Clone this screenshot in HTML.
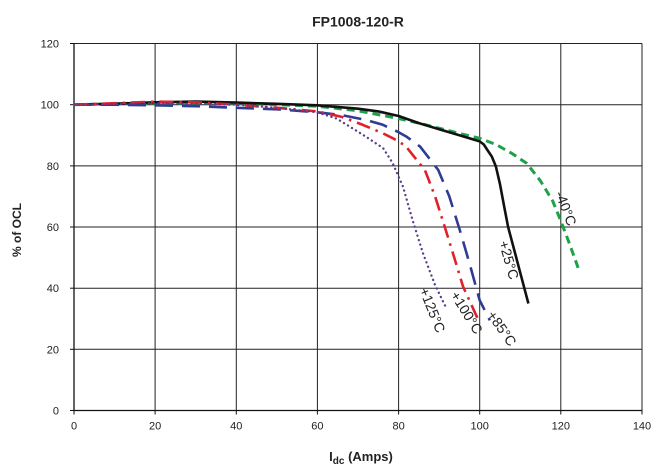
<!DOCTYPE html>
<html>
<head>
<meta charset="utf-8">
<style>
  html, body { margin: 0; padding: 0; background: #ffffff; }
  body { width: 664px; height: 476px; overflow: hidden; }
  svg { display: block; }
  text { font-family: "Liberation Sans", Arial, sans-serif; fill: #222; }
</style>
</head>
<body>
<svg width="664" height="476" viewBox="0 0 664 476" xmlns="http://www.w3.org/2000/svg">
  <!-- Title -->
  <text x="358" y="26.5" font-size="14" font-weight="bold" text-anchor="middle">FP1008-120-R</text>

  <!-- Grid -->
  <g stroke="#222" stroke-width="1" fill="none">
    <line x1="74" y1="43.5" x2="642" y2="43.5"/>
    <line x1="74" y1="104.7" x2="642" y2="104.7"/>
    <line x1="74" y1="165.9" x2="642" y2="165.9"/>
    <line x1="74" y1="227" x2="642" y2="227"/>
    <line x1="74" y1="288.2" x2="642" y2="288.2"/>
    <line x1="74" y1="349.3" x2="642" y2="349.3"/>
    <line x1="155.1" y1="43.5" x2="155.1" y2="410.5"/>
    <line x1="236.3" y1="43.5" x2="236.3" y2="410.5"/>
    <line x1="317.4" y1="43.5" x2="317.4" y2="410.5"/>
    <line x1="398.6" y1="43.5" x2="398.6" y2="410.5"/>
    <line x1="479.7" y1="43.5" x2="479.7" y2="410.5"/>
    <line x1="560.8" y1="43.5" x2="560.8" y2="410.5"/>
    <line x1="642" y1="43.5" x2="642" y2="410.5"/>
  </g>
  <!-- Axes -->
  <g stroke="#111" stroke-width="1.3" fill="none">
    <line x1="74" y1="43.5" x2="74" y2="410.5"/>
    <line x1="74" y1="410.5" x2="642" y2="410.5"/>
  </g>
  <!-- Ticks -->
  <g stroke="#111" stroke-width="1" fill="none">
    <line x1="70" y1="43.5" x2="74" y2="43.5"/>
    <line x1="70" y1="104.7" x2="74" y2="104.7"/>
    <line x1="70" y1="165.9" x2="74" y2="165.9"/>
    <line x1="70" y1="227" x2="74" y2="227"/>
    <line x1="70" y1="288.2" x2="74" y2="288.2"/>
    <line x1="70" y1="349.3" x2="74" y2="349.3"/>
    <line x1="70" y1="410.5" x2="74" y2="410.5"/>
    <line x1="74" y1="410.5" x2="74" y2="414.5"/>
    <line x1="155.1" y1="410.5" x2="155.1" y2="414.5"/>
    <line x1="236.3" y1="410.5" x2="236.3" y2="414.5"/>
    <line x1="317.4" y1="410.5" x2="317.4" y2="414.5"/>
    <line x1="398.6" y1="410.5" x2="398.6" y2="414.5"/>
    <line x1="479.7" y1="410.5" x2="479.7" y2="414.5"/>
    <line x1="560.8" y1="410.5" x2="560.8" y2="414.5"/>
    <line x1="642" y1="410.5" x2="642" y2="414.5"/>
  </g>

  <!-- Y tick labels -->
  <g font-size="11" text-anchor="end">
    <text x="59" y="47.5">120</text>
    <text x="59" y="108.7">100</text>
    <text x="59" y="169.9">80</text>
    <text x="59" y="231">60</text>
    <text x="59" y="292.2">40</text>
    <text x="59" y="353.3">20</text>
    <text x="59" y="414.5">0</text>
  </g>
  <!-- X tick labels -->
  <g font-size="11" text-anchor="middle">
    <text x="74" y="429.5">0</text>
    <text x="155.1" y="429.5">20</text>
    <text x="236.3" y="429.5">40</text>
    <text x="317.4" y="429.5">60</text>
    <text x="398.6" y="429.5">80</text>
    <text x="479.7" y="429.5">100</text>
    <text x="560.8" y="429.5">120</text>
    <text x="642" y="429.5">140</text>
  </g>

  <!-- Axis titles -->
  <text x="361" y="461" font-size="13" font-weight="bold" text-anchor="middle">I<tspan font-size="10" dy="3">dc</tspan><tspan dy="-3"> (Amps)</tspan></text>
  <text transform="translate(21,230) rotate(-90)" font-size="12" font-weight="bold" text-anchor="middle">% of OCL</text>

  <!-- Series -->
  <g fill="none" stroke-linejoin="round">
    <!-- -40C green dashed -->
    <polyline stroke="#20a04a" stroke-width="3" stroke-dasharray="8 5"
      points="74,104.7 155.1,103.2 236.3,103.2 317.4,106.2 358,110.8 398.6,118.5 418.8,123.1 439.1,128.2 459.4,133.4 479.7,138.3 495.9,144.5 512.2,153.6 526.8,163.4 540.6,181.1 552.7,201.0 560.8,220.9 568.95,242.3 578.3,268.3"/>
    <!-- +25C black solid -->
    <polyline stroke="#111" stroke-width="2.6"
      points="74,104.7 114.6,103.7 155.1,102.3 195.7,101.6 236.3,102.6 276.9,103.8 317.4,105.3 358,108.7 378.3,111.4 398.6,116.0 418.8,123.1 439.1,129.2 459.4,135.3 479.7,141.4 483.8,144.5 487.8,150.6 491.9,156.7 495.9,166.5 500,184.2 504,205.6 508.1,227 512.2,242.3 520.3,272.9 528.4,303.5"/>
    <!-- +85C blue long dash -->
    <polyline stroke="#2f3c94" stroke-width="2.6" stroke-dasharray="18 9"
      points="74,104.7 114.6,104.7 155.1,105.3 195.7,106.2 236.3,107.8 276.9,109.3 317.4,112.3 341.8,115.1 366.1,120.0 382.3,124.6 398.6,132.2 406.7,136.8 420.1,146.6 438.3,170.1 449.3,196.4 459.8,230.1 469.6,263.7 479.7,300.4 489.8,320.3"/>
    <!-- +100C red dash-dot -->
    <polyline stroke="#e0202a" stroke-width="2.6" stroke-dasharray="14 6 2.5 6"
      points="74,104.7 114.6,103.2 155.1,101.6 195.7,102.3 236.3,104.7 276.9,107.8 317.4,111.4 341.8,116.9 362.9,124.9 383.1,133.4 392.9,138.3 405.1,145.4 424.9,170.1 435.1,196.4 444.8,227 453.3,254.5 463.1,286.7 479.7,323.0"/>
    <!-- +125C purple dotted -->
    <polyline stroke="#5a3c8e" stroke-width="2.3" stroke-linecap="round" stroke-dasharray="0.1 4.6"
      points="74,104.7 155.1,103.2 236.3,104.7 276.9,107.8 317.4,112.3 336.5,118.5 349.9,126.7 366.1,136.8 383.1,148.1 392.5,162.8 403.0,186.7 412.8,220.9 422.9,253.0 435.1,285.1 446.4,308.4"/>
  </g>

  <!-- Curve labels -->
  <g font-size="14" text-anchor="middle" dominant-baseline="central">
    <text transform="translate(432.5,310) rotate(68)">+125°C</text>
    <text transform="translate(466.7,312.5) rotate(58)">+100°C</text>
    <text transform="translate(502,328.3) rotate(55)">+85°C</text>
    <text transform="translate(509,260) rotate(74)">+25°C</text>
    <text transform="translate(566,208.3) rotate(69)">-40°C</text>
  </g>
</svg>
</body>
</html>
